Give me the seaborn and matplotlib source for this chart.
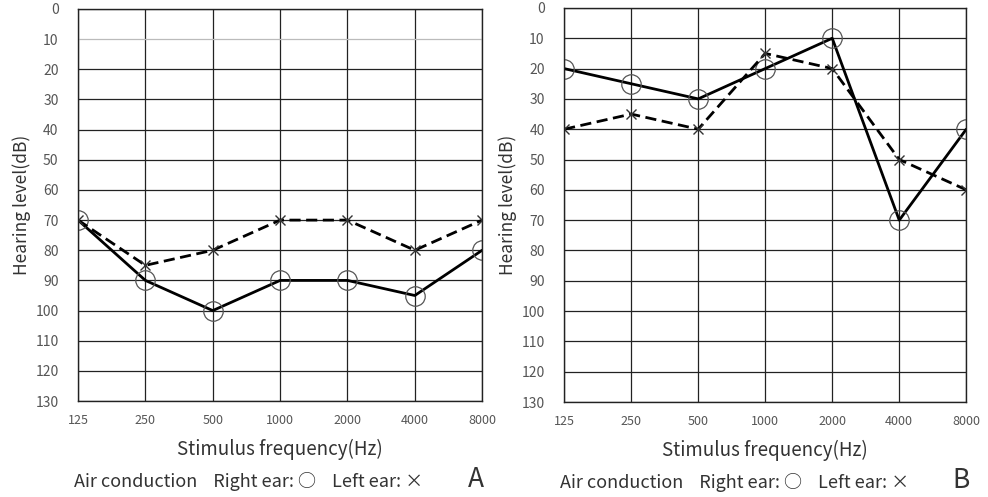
import numpy as np
import pandas as pd
import seaborn as sns
import matplotlib.pyplot as plt

freqs = [125, 250, 500, 1000, 2000, 4000, 8000]
a_right = [70, 90, 100, 90, 90, 95, 80]
a_left = [70, 85, 80, 70, 70, 80, 70]
b_right = [20, 25, 30, 20, 10, 70, 40]
b_left = [40, 35, 40, 15, 20, 50, 60]
db_ticks = list(range(0, 140, 10))

sns.set_theme(style='white')
plt.rcParams['font.family'] = ['Noto Sans CJK JP', 'DejaVu Sans']

fig = plt.figure(figsize=(9.88, 4.97), dpi=100)
axA = fig.add_axes([0.079, 0.193, 0.409, 0.789])
axB = fig.add_axes([0.571, 0.191, 0.407, 0.793])


def draw(ax, right, left, letter):
    df = pd.DataFrame({'freq': freqs, 'right': right, 'left': left})
    sns.lineplot(data=df, x='freq', y='right', ax=ax, color='black', lw=2,
                 marker='o', markersize=14, markerfacecolor='none',
                 markeredgecolor='#555555', markeredgewidth=0.9)
    sns.lineplot(data=df, x='freq', y='left', ax=ax, color='black', lw=2,
                 linestyle=(0, (4, 2)), marker='x', markersize=7,
                 markeredgecolor='#333333', markeredgewidth=1.0)
    ax.set_xscale('log', base=2)
    ax.set_xlim(125, 8000)
    ax.set_ylim(130, 0)
    ax.set_xticks(freqs)
    ax.set_xticklabels([str(f) for f in freqs])
    ax.minorticks_off()
    ax.set_yticks(db_ticks)
    ax.grid(True, color='#222222', lw=0.9)
    for s in ax.spines.values():
        s.set_color('#222222')
        s.set_linewidth(1.0)
    ax.tick_params(axis='x', labelsize=9, colors='#555555', pad=9, length=0)
    ax.tick_params(axis='y', labelsize=10, colors='#555555', pad=14, length=0)
    for lab in ax.get_xticklabels() + ax.get_yticklabels():
        lab.set_color('#555555')
    ax.set_xlabel('Stimulus frequency(Hz)', fontsize=13.5, color='#333333', labelpad=9)
    ax.set_ylabel('Hearing level(dB)', fontsize=12.5, color='#333333', labelpad=3)
    ax.text(-0.01, -0.205, 'Air conduction    Right ear: ○    Left ear: ×',
            transform=ax.transAxes, fontsize=13, color='#333333',
            ha='left', va='center')
    ax.text(0.965, -0.2, letter, transform=ax.transAxes, fontsize=19,
            color='#333333', ha='left', va='center')


draw(axA, a_right, a_left, 'A')
draw(axB, b_right, b_left, 'B')
axA.yaxis.get_gridlines()[1].set_color('#bbbbbb')

fig.savefig('out.png', dpi=100)
